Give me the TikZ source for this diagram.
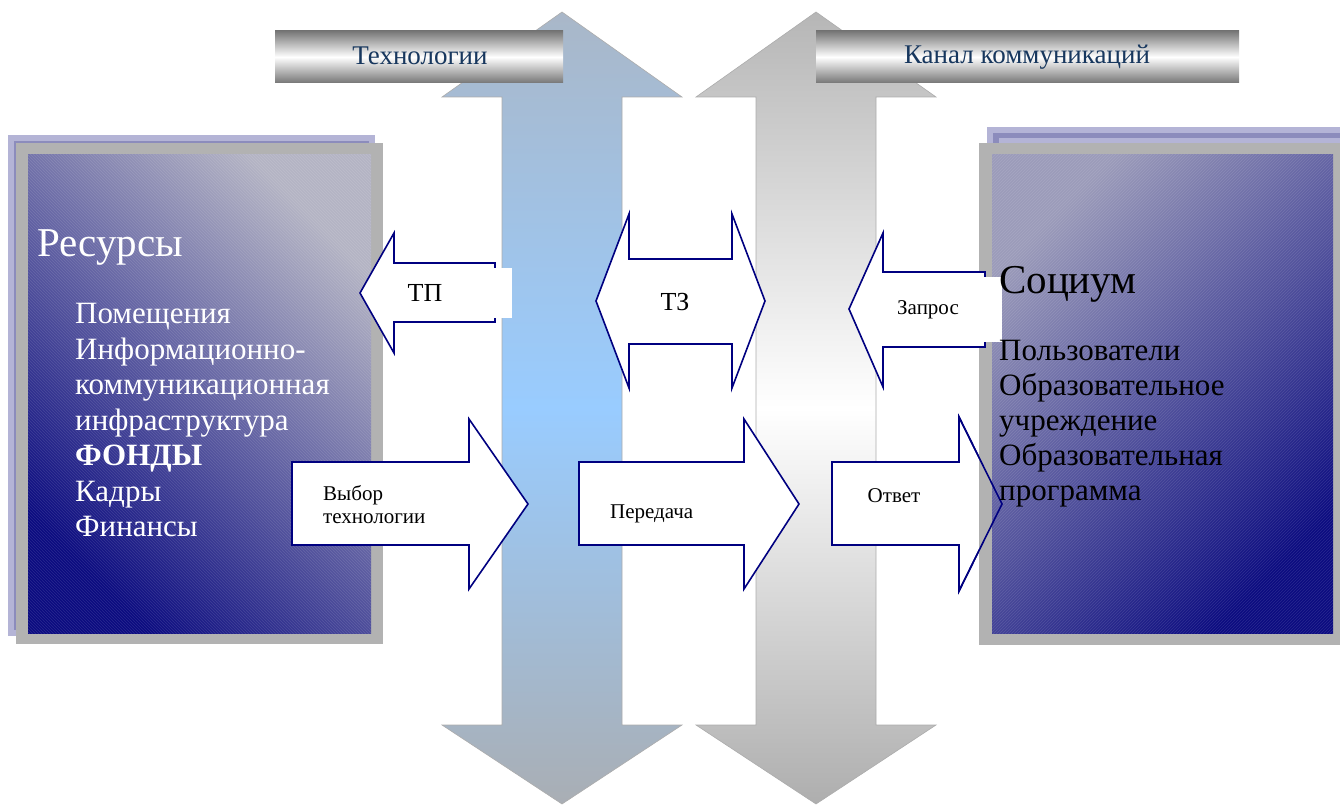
\documentclass[tikz,border=0pt]{standalone}
\usepackage{fontspec}
\setmainfont{Liberation Serif}
\usetikzlibrary{patterns}

\definecolor{navyline}{HTML}{000080}
\definecolor{techtop}{HTML}{A9B7C8}
\definecolor{techmid}{HTML}{99CCFF}
\definecolor{techbot}{HTML}{A9AEB4}
\definecolor{chantop}{HTML}{B6B6B6}
\definecolor{chanbot}{HTML}{AEAEAE}
\definecolor{bargray}{HTML}{767676}
\definecolor{bartext}{HTML}{17375E}
\definecolor{lavlight}{HTML}{B4B4D6}
\definecolor{lavdark}{HTML}{8C8CBC}
\definecolor{framegray}{HTML}{B2B2B2}
\definecolor{panellight}{HTML}{B4B4C4}
\definecolor{paneldark}{HTML}{0C0C80}

\begin{document}
\begin{tikzpicture}[x=1pt, y=-1pt,
    hbar/.style={draw=navyline, line width=1.6pt, fill=white, line join=miter},
    vbar/.style={draw=gray!65, line width=0.6pt},
    banner/.style={top color=bargray, bottom color=bargray, middle color=white},
    bartitle/.style={inner sep=0pt, text=bartext, font=\fontsize{27}{30}\selectfont},
    arrowtext/.style={inner sep=0pt, font=\fontsize{21}{23}\selectfont},
    bigtext/.style={inner sep=0pt, font=\fontsize{26}{30}\selectfont},
    paneltitle/.style={inner sep=0pt, anchor=west, font=\fontsize{41}{44}\selectfont},
    panellist/.style={inner sep=0pt, anchor=north west, align=left, font=\fontsize{31}{35.5}\selectfont},
    hatch/.style={pattern color=white, opacity=0.12}]

      \useasboundingbox (0,0) rectangle (1340,805);

      % vertical arrows
      \shadedraw[vbar, top color=techtop, bottom color=techbot, middle color=techmid]
        (562,12) -- (682,97) -- (622,97) -- (622,725) -- (682,725) -- (562,804)
        -- (442,725) -- (502,725) -- (502,97) -- (442,97) -- cycle;
      \shadedraw[vbar, top color=chantop, bottom color=chanbot, middle color=white]
        (816,12) -- (936,97) -- (876,97) -- (876,725) -- (936,725) -- (816,804)
        -- (696,725) -- (756,725) -- (756,97) -- (696,97) -- cycle;

      % banners
      \shade[banner] (275,31) rectangle (563,83);
      \node[bartitle] (techtitle) at (420,56) {Технологии};
      \shade[banner] (816,31) rectangle (1239,83);
      \node[bartitle] (chantitle) at (1027,57) {Канал коммуникаций};

      % left panel
      \fill[lavlight] (8,135) rectangle (375,636);
      \fill[lavdark] (14,141) rectangle (369,630);
      \fill[framegray] (16,143) rectangle (383,644);
      \shade[top color=panellight, bottom color=paneldark, shading angle=-45] (28,155) rectangle (371,633);
      \fill[hatch, pattern=north west lines] (28,155) rectangle (371,633);

      % Otvet arrow sits under the right panel
      \draw[hbar] (832,462) -- (959,462) -- (959,417) -- (1002,504) -- (959,591)
        -- (959,545) -- (832,545) -- cycle;

      % right panel
      \fill[lavlight] (987,127) rectangle (1340,630);
      \fill[lavdark] (993,133) rectangle (1340,624);
      \fill[lavlight] (999,138) rectangle (1340,618);
      \fill[framegray] (979,143) rectangle (1340,645);
      \shade[top color=panellight!85!paneldark, bottom color=paneldark, shading angle=45] (992,155) rectangle (1333,633);
      \fill[hatch, pattern=north east lines] (992,155) rectangle (1333,633);
      \draw[hbar, fill=none] (832,462) -- (959,462) -- (959,417) -- (1002,504) -- (959,591)
        -- (959,545) -- (832,545) -- cycle;
      \fill[white] (833,472) rectangle (860,528);

      % horizontal arrows
      \draw[hbar] (360,293) -- (394,233) -- (394,263) -- (495,263) -- (495,322)
        -- (394,322) -- (394,353) -- cycle;
      \fill[white] (400,268) rectangle (512,318);
      \draw[hbar] (596,301) -- (629,214) -- (629,259) -- (732,259) -- (732,214) -- (765,301)
        -- (732,388) -- (732,344) -- (629,344) -- (629,388) -- cycle;
      \draw[hbar] (849,309) -- (883,233) -- (883,272) -- (985,272) -- (985,347)
        -- (883,347) -- (883,387) -- cycle;
      \fill[white] (900,277) rectangle (1002,342);
      \draw[hbar] (292,462) -- (469,462) -- (469,419) -- (528,504) -- (469,589)
        -- (469,545) -- (292,545) -- cycle;
      \draw[hbar] (579,462) -- (744,462) -- (744,419) -- (799,504) -- (744,589)
        -- (744,545) -- (579,545) -- cycle;

      % arrow labels
      \node[bigtext] (tp) at (425,293) {ТП};
      \node[bigtext] (tz) at (675,302) {ТЗ};
      \node[arrowtext] (zapros) at (928,310) {Запрос};
      \node[arrowtext, anchor=west, align=left] (vybor) at (323,505) {Выбор\\технологии};
      \node[arrowtext, anchor=west] (peredacha) at (610,514) {Передача};
      \node[arrowtext] (otvet) at (894,496) {Ответ};

      % panel texts
      \node[paneltitle, text=white] (resursy) at (37,248) {Ресурсы};
      \node[panellist, text=white] (reslist) at (75,303)
        {Помещения\\Информационно-\\коммуникационная\\инфраструктура\\\textbf{ФОНДЫ}\\Кадры\\Финансы};
      \node[paneltitle] (socium) at (999,284) {Социум};
      \node[panellist, font=\fontsize{31}{35}\selectfont] (soclist) at (999,340)
        {Пользователи\\Образовательное\\учреждение\\Образовательная\\программа};

\end{tikzpicture}
\end{document}
